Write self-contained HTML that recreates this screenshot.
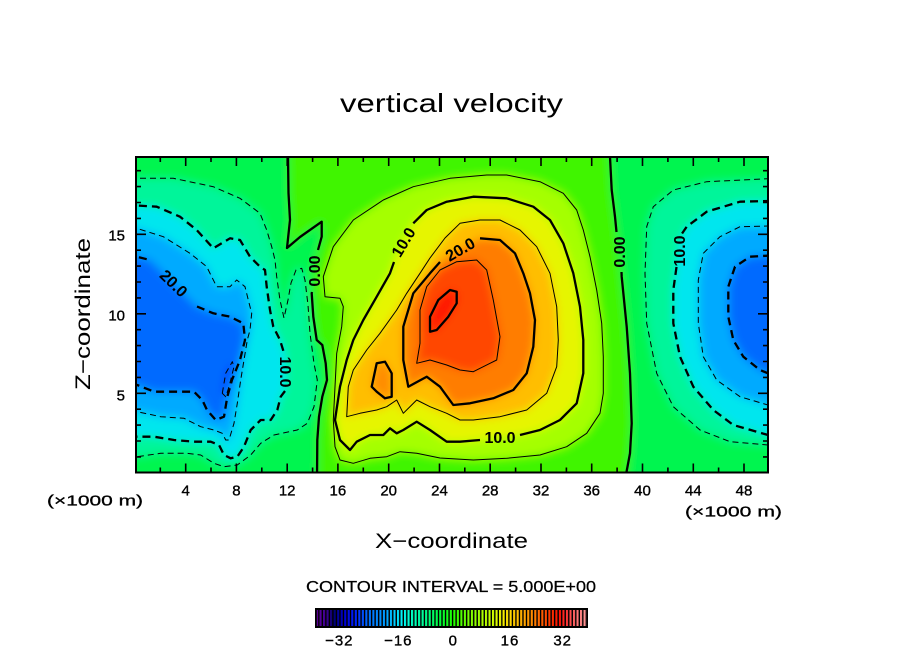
<!DOCTYPE html>
<html><head><meta charset="utf-8"><style>
html,body{margin:0;padding:0;background:#fff;}
svg{display:block;}
text{font-family:"Liberation Sans",sans-serif;fill:#000;}
</style></head><body>
<svg width="904" height="654" viewBox="0 0 904 654" xmlns="http://www.w3.org/2000/svg">
<defs>
<clipPath id="pc"><rect x="136" y="157" width="632" height="315.5"/></clipPath>
<filter id="bl" x="0" y="0" width="904" height="654" filterUnits="userSpaceOnUse"><feGaussianBlur stdDeviation="4.5"/></filter>
<linearGradient id="cb" gradientUnits="userSpaceOnUse" x1="316" y1="0" x2="587" y2="0">
<stop offset="0" stop-color="#6400a0"/>
<stop offset="0.039" stop-color="#3c0090"/>
<stop offset="0.065" stop-color="#000070"/>
<stop offset="0.104" stop-color="#0000d0"/>
<stop offset="0.143" stop-color="#0020ff"/>
<stop offset="0.195" stop-color="#0070ff"/>
<stop offset="0.26" stop-color="#00a0ff"/>
<stop offset="0.312" stop-color="#00f0ff"/>
<stop offset="0.351" stop-color="#00ffc8"/>
<stop offset="0.403" stop-color="#00ff90"/>
<stop offset="0.455" stop-color="#00ff40"/>
<stop offset="0.506" stop-color="#20ff00"/>
<stop offset="0.558" stop-color="#70ff00"/>
<stop offset="0.61" stop-color="#a8ff00"/>
<stop offset="0.662" stop-color="#d8ff00"/>
<stop offset="0.701" stop-color="#ffe800"/>
<stop offset="0.74" stop-color="#ffc000"/>
<stop offset="0.792" stop-color="#ff9000"/>
<stop offset="0.831" stop-color="#ff6000"/>
<stop offset="0.87" stop-color="#ff3000"/>
<stop offset="0.896" stop-color="#ff1000"/>
<stop offset="0.922" stop-color="#ff3030"/>
<stop offset="0.961" stop-color="#ff7070"/>
<stop offset="1" stop-color="#ff9a9a"/>
</linearGradient>
<pattern id="st" patternUnits="userSpaceOnUse" x="316" y="0" width="3.52" height="654">
<rect x="2.1" y="0" width="1.42" height="654" fill="#000"/>
</pattern>

<path id="nl0" d="M100,130 L288,130 L288,157 L288.5,193 L290,220 L287,248 L300,237 L321.7,221.7 L321.7,236.7 L317,252 L313,270 L311.7,293.3 L313.3,316.7 L316.7,340 L322.3,345 L325.7,363.3 L327,380 L322.3,396.7 L319,416.7 L317.3,440 L317,500 L100,500 Z"/>
<path id="nr0" d="M810,130 L610,130 L610,157 L611.7,190 L615,216.7 L617,232 L619,252 L621.7,276.7 L626.7,326.7 L630,373.3 L631.7,423.3 L630,453.3 L625,500 L810,500 Z"/>
<path id="m5l" d="M100,178.3 L173.3,178.3 L213.3,186.7 L240,198.3 L260,213.3 L266.7,230 L271.7,246.7 L275,260 L276.7,276.7 L280,300 L284,318 L288,300 L291,283 L296,270 L301.7,268.3 L305,280 L308,305 L310,333.3 L314,363.3 L317.3,380 L314,406.7 L307.3,423.3 L297.3,430 L274,435 L260.7,443.3 L250.7,455 L237.3,465 L224,466.7 L214,463.3 L200.7,455 L187.3,453.3 L160.7,453.3 L137.3,456.7 L100,456.7 Z"/>
<path id="m10l" d="M100,203.3 L156.7,206.7 L180,216.7 L196.7,230 L213.3,248.3 L230,238.3 L240,240 L250,256.7 L260,266.7 L265,270 L266.7,286.7 L270,310 L273.3,326.7 L280,340 L285,353 L286,372 L285,390 L280.7,396.7 L277.3,410 L270.7,420 L260.7,420 L250.7,430 L244,446.7 L237.3,456.7 L230.7,458.3 L224,455 L219,445 L210.7,441.7 L194,441.7 L174,440 L154,436.7 L100,436.7 Z"/>
<path id="m15l" d="M100,228.3 L136.7,228.3 L163.3,236.7 L190,253.3 L206.7,266.7 L216.7,286.7 L230,286.7 L236.7,280 L245,286.7 L248.3,300 L251.7,313.3 L250,330 L247.3,340 L244,360 L240.7,380 L237.3,403.3 L234,423.3 L229,440 L225.7,440 L222.3,433.3 L214,430 L200.7,426.7 L184,418.3 L160.7,416.7 L137.3,411.7 L100,411.7 Z"/>
<path id="m20l" d="M100,256.7 L136.7,256.7 L150,260 L163.3,273.3 L176.7,286.7 L196.7,306.7 L213.3,313.3 L230,316.7 L243.3,323.3 L245,340 L240,360 L232,380 L227.3,396.7 L224,416.7 L215.7,420 L207,410 L202.3,400 L194,391.7 L174,391.7 L154,391.7 L137.3,385 L100,385 Z"/>
<path id="m25l" d="M222.3,393.3 L225.7,373.3 L232.3,361.7 L234,366.7 L229,386.7 L225.7,396.7 Z"/>
<path id="m5r" d="M810,176.7 L706.7,181.7 L673.3,190 L653.3,206.7 L646.7,226.7 L645,273.3 L646.7,323.3 L656.7,373.3 L673.3,406.7 L700,430 L730,441.7 L768,445 L810,445 Z"/>
<path id="m10r" d="M810,200 L740,201.7 L706.7,211.7 L686.7,226.7 L680,240 L677,260 L673.3,290 L673.3,323.3 L680,356.7 L693.3,386.7 L713.3,410 L733.3,425 L768,435 L810,435 Z"/>
<path id="m15r" d="M810,225 L740,226.7 L720,236.7 L703.3,253.3 L698.3,280 L698.3,323.3 L703.3,356.7 L716.7,380 L740,396.7 L768,405 L810,405 Z"/>
<path id="m20r" d="M810,253.3 L750,256.7 L735,266.7 L728.3,286.7 L728.3,316.7 L733.3,340 L743.3,356.7 L760,370 L768,373.3 L810,373.3 Z"/>
<path id="p5" d="M325,296.7 L323.3,276.7 L333.3,246.7 L353.3,220 L383.3,200 L413.3,186.7 L450,178.3 L486.7,175 L506.7,175 L540,181.7 L563.3,193.3 L576.7,210 L583.3,230 L590,256.7 L596.7,290 L601.7,323.3 L603.3,356.7 L603.3,393.3 L600,413.3 L586.7,433.3 L566.7,446.7 L540,455 L506.7,458.3 L473.3,460 L440,458 L416.7,453.3 L400,451.7 L386.7,456.7 L370,458.3 L353.3,463.3 L340,460 L335,446.7 L333.3,420 L335,386.7 L336.7,353.3 L341.7,326.7 L343.3,306.7 L340,298.3 Z"/>
<path id="p10" d="M394,262 L390,273.3 L376.7,296.7 L363.3,320 L353.3,340 L346.7,360 L340,386.7 L335,420 L340,440 L350,450 L356.7,441.7 L370,435 L383.3,435 L390,428.3 L396.7,433.3 L403.3,430 L416.7,421.7 L430,430 L446.7,441.7 L460,441.7 L480,440 L500,437 L520,435 L540,430 L560,420 L576.7,403.3 L583.3,373.3 L583.3,340 L580,306.7 L573.3,273.3 L563.3,243.3 L550,220 L533.3,206.7 L506.7,198.3 L473.3,196.7 L446.7,201.7 L426.7,210 L413.3,223.3 L403,242 Z"/>
<path id="p15" d="M446.7,413.3 L430,406.7 L416.7,400 L403.3,413.3 L396.7,400 L386.7,406.7 L376.7,410 L360,413.3 L346.7,416.7 L348.3,386.7 L353.3,370 L366.7,350 L380,333.3 L396.7,310 L406.7,293.3 L420,273.3 L430,258 L445,238 L460,223.3 L480,220 L500,220 L520,230 L536.7,246.7 L550,273.3 L556.7,306.7 L558.3,340 L556.7,366.7 L546.7,393.3 L526.7,410 L500,416.7 L473.3,420 L460,420 Z"/>
<path id="p20" d="M440,262 L430,273.3 L413.3,293.3 L403.3,326.7 L403.3,360 L408.3,386.7 L426.7,376.7 L440,386.7 L453.3,405 L470,403.3 L493.3,398.3 L513.3,390 L526.7,373.3 L533.3,346.7 L535,320 L530,293.3 L523.3,273.3 L515,253.3 L500,240 L480,238.3 L460,249 Z"/>
<path id="p20i" d="M371.7,386.7 L376.7,363.3 L385,361.7 L391.7,373.3 L391.7,396.7 L385,398.3 L376.7,391.7 Z"/>
<path id="p25" d="M416.7,363.3 L420,343.3 L420,310 L426.7,286.7 L440,270 L456.7,261.7 L476.7,260 L486.7,270 L493.3,300 L500,336.7 L496.7,360 L490,363.3 L473.3,371.7 L460,370 L446.7,365 L430,360 Z"/>
<path id="p30" d="M430,331.7 L430,316.7 L438.3,300 L450,290 L456.7,291.7 L456.7,303.3 L448.3,316.7 L436.7,330 Z"/>
</defs>

<rect width="904" height="654" fill="#fff"/>

<!-- filled field -->
<g clip-path="url(#pc)">
<g filter="url(#bl)">
<rect x="100" y="130" width="710" height="370" fill="#40f500"/>
<use href="#nl0" fill="#00f550"/>
<use href="#nr0" fill="#00f550"/>
<use href="#m5l" fill="#00f59a"/>
<use href="#m10l" fill="#00e6ee"/>
<use href="#m15l" fill="#00aaff"/>
<use href="#m20l" fill="#006aff"/>
<use href="#m25l" fill="#0037ff"/>
<use href="#m5r" fill="#00f59a"/>
<use href="#m10r" fill="#00e6ee"/>
<use href="#m15r" fill="#00aaff"/>
<use href="#m20r" fill="#006aff"/>
<use href="#p5" fill="#a5ff00"/>
<use href="#p10" fill="#e6f500"/>
<use href="#p15" fill="#ffbe00"/>
<use href="#p20" fill="#ff7d00"/>
<use href="#p20i" fill="#ff8c00"/>
<use href="#p25" fill="#ff4600"/>
<use href="#p30" fill="#ff1400"/>
</g>

<!-- contour lines -->
<g fill="none" stroke="#000" stroke-linejoin="round">
<g stroke-width="1" stroke-dasharray="6,4">
<use href="#m5l"/><use href="#m15l"/><use href="#m25l"/>
<use href="#m5r"/><use href="#m15r"/>
</g>
<g stroke-width="2.3" stroke-dasharray="8,5">
<path d="M100,203.3 L156.7,206.7 L180,216.7 L196.7,230 L213.3,248.3 L230,238.3 L240,240 L250,256.7 L260,266.7 L265,270 L266.7,286.7 L270,310 L273.3,326.7 L280,340 L284,353 M285,391 L280.7,396.7 L277.3,410 L270.7,420 L260.7,420 L250.7,430 L244,446.7 L237.3,456.7 L230.7,458.3 L224,455 L219,445 L210.7,441.7 L194,441.7 L174,440 L154,436.7 L100,436.7"/>
<path d="M100,256.7 L136.7,256.7 L150,260 M197,306.5 L213.3,313.3 L230,316.7 L243.3,323.3 L245,340 L240,360 L232,380 L227.3,396.7 L224,416.7 L215.7,420 L207,410 L202.3,400 L194,391.7 L174,391.7 L154,391.7 L137.3,385 L100,385"/>
<path d="M810,200 L740,201.7 L706.7,211.7 L686.7,226.7 L681,235 M676.5,267 L673.3,290 L673.3,323.3 L680,356.7 L693.3,386.7 L713.3,410 L733.3,425 L768,435 L810,435"/>
<use href="#m20r"/>
</g>
<g stroke-width="1">
<use href="#p5"/><use href="#p15"/><use href="#p25"/>
</g>
<g stroke-width="2.3">
<path d="M288,150 L288,157 L288.5,193 L290,220 L287,248 L300,237 L321.7,221.7 L321.7,236.7 L318,250 M312,292 L311.7,293.3 L313.3,316.7 L316.7,340 L322.3,345 L325.7,363.3 L327,380 L322.3,396.7 L319,416.7 L317.3,440 L317,480"/>
<path d="M610,150 L610,157 L611.7,190 L615,216.7 L616.5,232 M621.5,272 L621.7,276.7 L626.7,326.7 L630,373.3 L631.7,423.3 L630,453.3 L625,480"/>
<path d="M413.3,223.3 L426.7,210 L446.7,201.7 L473.3,196.7 L506.7,198.3 L533.3,206.7 L550,220 L563.3,243.3 L573.3,273.3 L580,306.7 L583.3,340 L583.3,373.3 L576.7,403.3 L560,420 L540,430 L520,435 M480,440 L460,441.7 L446.7,441.7 L430,430 L416.7,421.7 L403.3,430 L396.7,433.3 L390,428.3 L383.3,435 L370,435 L356.7,441.7 L350,450 L340,440 L335,420 L340,386.7 L346.7,360 L353.3,340 L363.3,320 L376.7,296.7 L390,273.3 L394,262"/>
<path d="M480,238.3 L500,240 L515,253.3 L523.3,273.3 L530,293.3 L535,320 L533.3,346.7 L526.7,373.3 L513.3,390 L493.3,398.3 L470,403.3 L453.3,405 L440,386.7 L426.7,376.7 L408.3,386.7 L403.3,360 L403.3,326.7 L413.3,293.3 L430,273.3 L440,262"/>
<use href="#p20i"/>
<use href="#p30"/>
</g>
</g>

<!-- contour labels -->
<g font-size="16" font-weight="bold" text-anchor="middle">
<text transform="translate(314,271) rotate(-90)" y="6">0.00</text>
<text transform="translate(619,252) rotate(-90)" y="6">0.00</text>
<text transform="translate(286,372) rotate(90)" y="6">10.0</text>
<text transform="translate(679,251) rotate(-90)" y="6">10.0</text>
<text transform="translate(174,283) rotate(44)" y="6">20.0</text>
<text transform="translate(403,242) rotate(-59)" y="6">10.0</text>
<text transform="translate(500,437)" y="6">10.0</text>
<text transform="translate(460,249) rotate(-30)" y="6">20.0</text>
</g>
</g>

<!-- frame -->
<rect x="136" y="157" width="632" height="315.5" fill="none" stroke="#000" stroke-width="2"/>

<!-- ticks -->
<g stroke="#000" stroke-width="1.6" fill="none">
<path d="M185.7,472.5V463.5M236.4,472.5V463.5M287.2,472.5V463.5M337.9,472.5V463.5M388.7,472.5V463.5M439.5,472.5V463.5M490.2,472.5V463.5M541,472.5V463.5M591.7,472.5V463.5M642.5,472.5V463.5M693.3,472.5V463.5M744,472.5V463.5"/>
<path d="M160.3,472.5V467.5M211,472.5V467.5M261.8,472.5V467.5M312.6,472.5V467.5M363.3,472.5V467.5M414.1,472.5V467.5M464.8,472.5V467.5M515.6,472.5V467.5M566.4,472.5V467.5M617.1,472.5V467.5M667.9,472.5V467.5M718.6,472.5V467.5"/>
<path d="M185.7,157V166M236.4,157V166M287.2,157V166M337.9,157V166M388.7,157V166M439.5,157V166M490.2,157V166M541,157V166M591.7,157V166M642.5,157V166M693.3,157V166M744,157V166"/>
<path d="M160.3,157V162M211,157V162M261.8,157V162M312.6,157V162M363.3,157V162M414.1,157V162M464.8,157V162M515.6,157V162M566.4,157V162M617.1,157V162M667.9,157V162M718.6,157V162"/>
<path d="M136,393.3H146M136,313.8H146M136,234.3H146M768,393.3H758M768,313.8H758M768,234.3H758"/>
<path d="M136,456.9H141M136,441H141M136,425.1H141M136,409.2H141M136,377.4H141M136,361.5H141M136,345.6H141M136,329.7H141M136,297.9H141M136,282H141M136,266.1H141M136,250.2H141M136,218.4H141M136,202.5H141M136,186.6H141M136,170.7H141"/>
<path d="M768,456.9H763M768,441H763M768,425.1H763M768,409.2H763M768,377.4H763M768,361.5H763M768,345.6H763M768,329.7H763M768,297.9H763M768,282H763M768,266.1H763M768,250.2H763M768,218.4H763M768,202.5H763M768,186.6H763M768,170.7H763"/>
</g>

<!-- tick labels -->
<g font-size="15" text-anchor="middle" stroke="#000" stroke-width="0.35">
<text x="185.7" y="495.5">4</text>
<text x="236.4" y="495.5">8</text>
<text x="287.2" y="495.5">12</text>
<text x="337.9" y="495.5">16</text>
<text x="388.7" y="495.5">20</text>
<text x="439.5" y="495.5">24</text>
<text x="490.2" y="495.5">28</text>
<text x="541" y="495.5">32</text>
<text x="591.7" y="495.5">36</text>
<text x="642.5" y="495.5">40</text>
<text x="693.3" y="495.5">44</text>
<text x="744" y="495.5">48</text>
</g>
<g font-size="15" text-anchor="end" stroke="#000" stroke-width="0.35">
<text x="125" y="240.5">15</text>
<text x="125" y="320.5">10</text>
<text x="125" y="400.5">5</text>
</g>
<text x="47" y="505.5" font-size="15" stroke="#000" stroke-width="0.3" textLength="96" lengthAdjust="spacingAndGlyphs">(×1000 m)</text>
<text x="685" y="516.5" font-size="15" stroke="#000" stroke-width="0.3" textLength="97" lengthAdjust="spacingAndGlyphs">(×1000 m)</text>

<!-- titles -->
<text x="340" y="112" font-size="26" textLength="223" lengthAdjust="spacingAndGlyphs">vertical velocity</text>
<text x="375" y="548" font-size="21" textLength="153" lengthAdjust="spacingAndGlyphs">X−coordinate</text>
<text transform="translate(90,390) rotate(-90)" font-size="21" textLength="152" lengthAdjust="spacingAndGlyphs">Z−coordinate</text>
<text x="306" y="592" font-size="16" stroke="#000" stroke-width="0.25" textLength="290" lengthAdjust="spacingAndGlyphs">CONTOUR INTERVAL = 5.000E+00</text>

<!-- colorbar -->
<rect x="315" y="608" width="273" height="20" fill="#000"/>
<rect x="316.8" y="610" width="269.5" height="16" fill="url(#cb)"/>
<rect x="316.8" y="610" width="269.5" height="16" fill="url(#st)"/>
<g font-size="15" text-anchor="middle" stroke="#000" stroke-width="0.35" letter-spacing="1">
<text x="339.3" y="645.5">−32</text>
<text x="398.3" y="645.5">−16</text>
<text x="453.3" y="645.5">0</text>
<text x="510" y="645.5">16</text>
<text x="562.7" y="645.5">32</text>
</g>
</svg>
</body></html>
